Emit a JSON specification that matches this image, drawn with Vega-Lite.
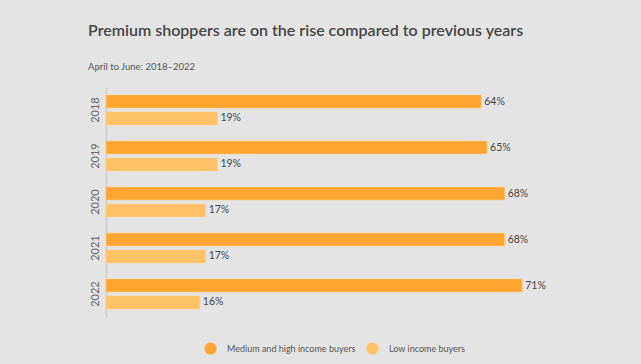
{
  "$schema": "https://vega.github.io/schema/vega-lite/v6.json",
  "width": 469,
  "height": 230,
  "autosize": {"type": "none"},
  "padding": {"left": 106, "top": 87, "right": 66, "bottom": 47},
  "background": "#e4e4e4",
  "title": {
    "text": "Premium shoppers are on the rise compared to previous years",
    "subtitle": "April to June: 2018–2022",
    "anchor": "start",
    "frame": "group",
    "dx": -18,
    "offset": 16,
    "font": "Lato",
    "fontSize": 16,
    "fontWeight": 600,
    "color": "#444444",
    "subtitleFont": "Lato",
    "subtitleFontSize": 9.5,
    "subtitleColor": "#555555",
    "subtitlePadding": 23
  },
  "config": {
    "view": {"stroke": null},
    "font": "Lato"
  },
  "data": {
    "values": [
      {"year": "2018", "group": "Medium and high income buyers", "value": 64, "label": "64%"},
      {"year": "2018", "group": "Low income buyers", "value": 19, "label": "19%"},
      {"year": "2019", "group": "Medium and high income buyers", "value": 65, "label": "65%"},
      {"year": "2019", "group": "Low income buyers", "value": 19, "label": "19%"},
      {"year": "2020", "group": "Medium and high income buyers", "value": 68, "label": "68%"},
      {"year": "2020", "group": "Low income buyers", "value": 17, "label": "17%"},
      {"year": "2021", "group": "Medium and high income buyers", "value": 68, "label": "68%"},
      {"year": "2021", "group": "Low income buyers", "value": 17, "label": "17%"},
      {"year": "2022", "group": "Medium and high income buyers", "value": 71, "label": "71%"},
      {"year": "2022", "group": "Low income buyers", "value": 16, "label": "16%"}
    ]
  },
  "encoding": {
    "y": {
      "field": "year",
      "type": "nominal",
      "scale": {"paddingInner": 0.35, "paddingOuter": 0.175},
      "axis": {
        "title": null,
        "ticks": false,
        "labelAngle": 270,
        "labelAlign": "center",
        "labelBaseline": "bottom",
        "labelPadding": 6,
        "labelFont": "Lato",
        "labelFontSize": 11,
        "labelColor": "#666666",
        "domainColor": "#cccccc",
        "domainWidth": 1.5
      }
    },
    "yOffset": {
      "field": "group",
      "type": "nominal",
      "sort": ["Medium and high income buyers", "Low income buyers"],
      "scale": {"paddingInner": 0.235, "paddingOuter": 0}
    },
    "x": {
      "field": "value",
      "type": "quantitative",
      "scale": {"domain": [0, 80]},
      "axis": null
    }
  },
  "layer": [
    {
      "mark": {"type": "bar", "stroke": "#ffd08a", "strokeWidth": 0.5},
      "encoding": {
        "color": {
          "field": "group",
          "type": "nominal",
          "sort": ["Medium and high income buyers", "Low income buyers"],
          "scale": {
            "domain": ["Medium and high income buyers", "Low income buyers"],
            "range": ["#ffa532", "#ffc266"]
          },
          "legend": {
            "title": null,
            "orient": "none",
            "legendX": 98,
            "legendY": 255,
            "direction": "horizontal",
            "symbolType": "circle",
            "symbolSize": 150,
            "symbolStrokeWidth": 0,
            "labelFont": "Lato",
            "labelFontSize": 9,
            "labelColor": "#555555",
            "labelOffset": 10,
            "columnPadding": 10
          }
        }
      }
    },
    {
      "mark": {"type": "text", "align": "left", "baseline": "middle", "dx": 3, "font": "Lato", "fontSize": 10.5, "color": "#444444"},
      "encoding": {
        "text": {"field": "label", "type": "nominal"},
        "detail": {"field": "group"}
      }
    }
  ]
}
